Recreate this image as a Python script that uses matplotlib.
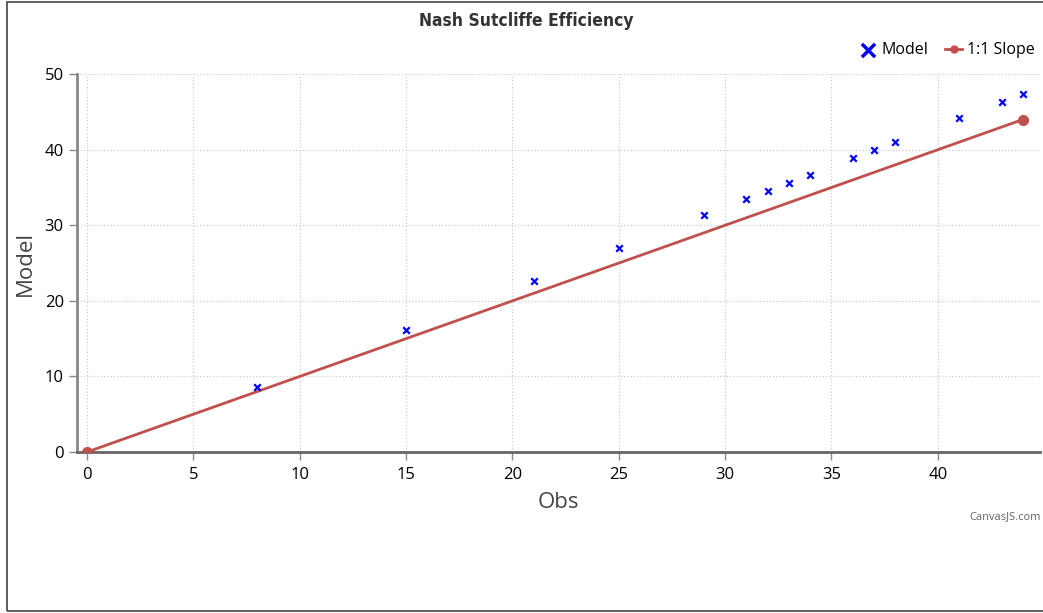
import matplotlib
matplotlib.use("Agg")
import matplotlib.pyplot as plt
from matplotlib.patches import Rectangle

obs = [8, 15, 21, 25, 29, 31, 32, 33, 34, 36, 37, 38, 41, 43, 44]
model = [8.6, 16.1, 22.6, 27.0, 31.3, 33.5, 34.5, 35.6, 36.6, 38.9, 39.9, 41.0, 44.2, 46.3, 47.4]
slope_x = [0, 44]
slope_y = [0, 44]

plt.rcParams["font.family"] = ["Open Sans", "DejaVu Sans"]

fig = plt.figure(figsize=(10.43, 6.13), dpi=100)
ax = fig.add_axes([0.0738, 0.2626, 0.9232, 0.6164])

ax.plot(slope_x, slope_y, color="#C0504E", lw=2, marker="o", ms=7,
        label="1:1 Slope", zorder=3)
ax.scatter(obs, model, marker="x", color="blue", s=22, lw=1.6,
           label="Model", zorder=4)

ax.set_xlim(-0.47, 44.8)
ax.set_ylim(0, 50)
ax.set_xticks(range(0, 45, 5))
ax.set_yticks(range(0, 51, 10))
ax.grid(True, color="#cccccc", ls=":", lw=0.9)
ax.set_axisbelow(True)

for s in ["top", "right"]:
    ax.spines[s].set_visible(False)
ax.spines["left"].set_color("#888888")
ax.spines["left"].set_linewidth(2)
ax.spines["bottom"].set_color("#666666")
ax.spines["bottom"].set_linewidth(2)
ax.tick_params(axis="both", colors="#888888", labelcolor="black",
               labelsize=12, length=6, width=1)
ax.tick_params(axis="x", pad=5)

ax.set_xlabel("Obs", fontsize=16, color="#444444", labelpad=6)
ax.set_ylabel("Model", fontsize=16, color="#444444", labelpad=6)

fig.text(0.505, 0.966, "Nash Sutcliffe Efficiency", ha="center", va="center",
         fontsize=12.5, fontweight="bold", fontstretch="condensed", color="#333333",
         family=["DejaVu Sans"])

h, l = ax.get_legend_handles_labels()
leg = fig.legend(h[::-1], l[::-1], loc="center right", bbox_to_anchor=(1.006, 0.918),
                 ncol=2, frameon=False, fontsize=11.5, handlelength=1.1,
                 handletextpad=0.3, columnspacing=1.0)
leg.legend_handles[0].set_sizes([90])
leg.legend_handles[0].set_linewidth(2.5)
leg.legend_handles[1].set_markersize(5)

fig.text(0.998, 0.158, "CanvasJS.com", ha="right", va="center",
         fontsize=8, color="#666666")

fig.patches.append(Rectangle((0.007, 0.003), 1.2, 0.994, transform=fig.transFigure,
                             fill=False, ec="#444444", lw=1.2))

fig.savefig("out.png", dpi=100)
